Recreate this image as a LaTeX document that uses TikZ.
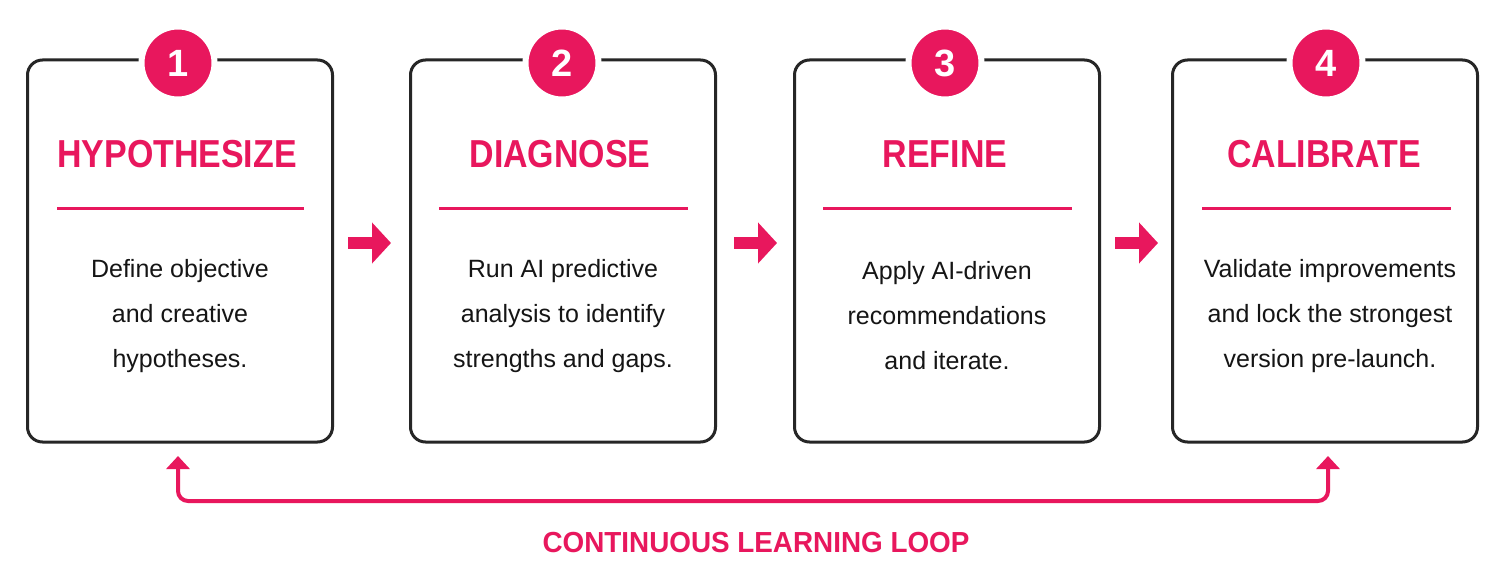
\documentclass[tikz,border=0pt]{standalone}
\usepackage{fontspec}
\usepackage{graphicx}
\setmainfont{Liberation Sans}
\usetikzlibrary{arrows.meta}
\definecolor{pinkc}{HTML}{E8175D}
\definecolor{edgec}{HTML}{262626}
\definecolor{bodyc}{HTML}{151515}
\begin{document}
\begin{tikzpicture}[x=1pt,y=-1pt,
  stepbox/.style={draw=edgec, line width=3pt, rounded corners=15pt, fill=white,
    minimum width=305pt, minimum height=382pt, inner sep=0pt},
  numc/.style={circle, fill=pinkc, draw=white, line width=6pt, minimum size=73pt,
    inner sep=0pt, text=white, font=\bfseries\fontsize{38}{38}\selectfont},
  titletext/.style={anchor=base, inner sep=0pt, text=pinkc,
    font=\bfseries\fontsize{39}{39}\selectfont},
  bodytext/.style={align=center, inner sep=0pt, text=bodyc,
    font=\fontsize{25}{45}\selectfont},
  rulec/.style={draw=pinkc, line width=3pt},
  steparrow/.style={draw=pinkc, line width=12pt, -{Triangle[length=19pt,width=40pt]}},
  looparrow/.style={draw=pinkc, line width=4pt, rounded corners=10pt,
    {Triangle[length=13pt,width=23pt]}-{Triangle[length=13pt,width=23pt]}}
]
\fill[white] (0,0) rectangle (1508,585);
\useasboundingbox (0,0) rectangle (1508,585);

% boxes
\node[stepbox] (b1) at (180,251) {};
\node[stepbox] (b2) at (563,251) {};
\node[stepbox] (b3) at (947,251) {};
\node[stepbox] (b4) at (1325,251) {};

% number badges
\node[numc] (n1) at (178,63) {1};
\node[numc] (n2) at (562,63) {2};
\node[numc] (n3) at (945,63) {3};
\node[numc] (n4) at (1326,63) {4};

% titles
\node[titletext] (t1) at (177,168) {\scalebox{0.87}[1]{HYPOTHESIZE}};
\node[titletext] (t2) at (560,168) {\scalebox{0.87}[1]{DIAGNOSE}};
\node[titletext] (t3) at (945,168) {\scalebox{0.87}[1]{REFINE}};
\node[titletext] (t4) at (1324,168) {\scalebox{0.87}[1]{CALIBRATE}};

% rules
\draw[rulec] (57,209) -- (304,209);
\draw[rulec] (439,209) -- (688,209);
\draw[rulec] (823,209) -- (1072,209);
\draw[rulec] (1202,209) -- (1451,209);

% body texts
\node[bodytext] (d1) at (180,316) {Define objective\\and creative\\hypotheses.};
\node[bodytext] (d2) at (563,316) {Run AI predictive\\analysis to identify\\strengths and gaps.};
\node[bodytext] (d3) at (947,316) {Apply AI-driven\\recommendations\\and iterate.};
\node[bodytext] (d4) at (1330,316) {Validate improvements\\and lock the strongest\\version pre-launch.};

% step arrows
\coordinate (a1s) at (348,243); \coordinate (a1e) at (391,243);
\coordinate (a2s) at (734,243); \coordinate (a2e) at (777,243);
\coordinate (a3s) at (1115,243); \coordinate (a3e) at (1158,243);
\draw[steparrow] (a1s) -- (a1e);
\draw[steparrow] (a2s) -- (a2e);
\draw[steparrow] (a3s) -- (a3e);

% loop
\coordinate (l1) at (178,456);
\coordinate (l2) at (1328,456);
\coordinate (lc1) at (178,501);
\coordinate (lc2) at (1328,501);
\draw[looparrow] (l1) -- (lc1) -- (lc2) -- (l2);

\node[anchor=base, inner sep=0pt, text=pinkc, font=\bfseries\fontsize{29}{29}\selectfont]
  (loop) at (756,552) {\scalebox{0.96}[1]{CONTINUOUS LEARNING LOOP}};
\end{tikzpicture}
\end{document}
